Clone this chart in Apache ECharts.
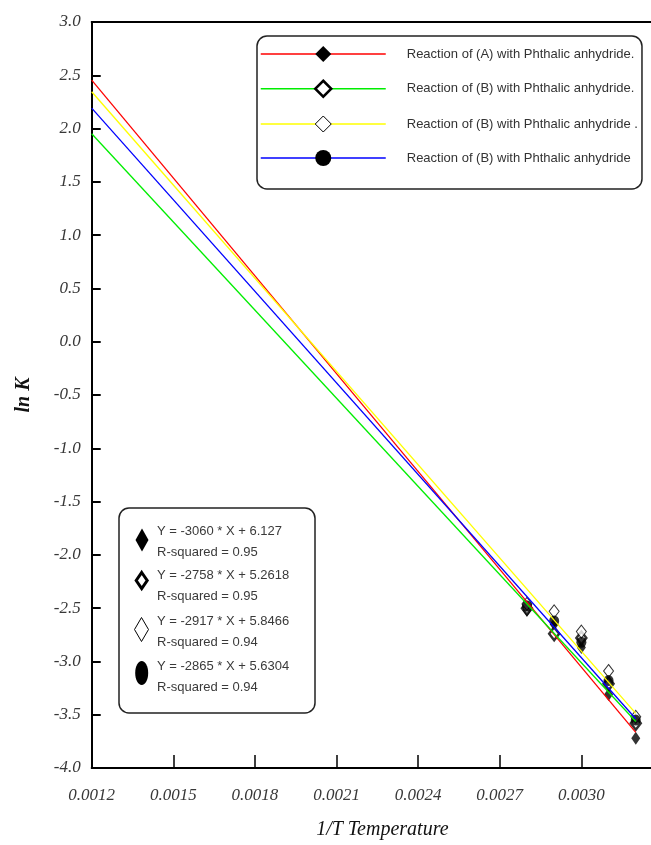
<!DOCTYPE html>
<html>
<head>
<meta charset="utf-8">
<script src="https://cdn.jsdelivr.net/npm/echarts@6/dist/echarts.min.js"></script>
<style>
html,body{margin:0;padding:0;background:#fff;}
#chart{width:651px;height:845px;}
</style>
</head>
<body>
<div id="chart"></div>
<script>
// ---- data ----
const invT = [0.0028, 0.0029, 0.0030, 0.0031, 0.0032];
const lnK_A  = [-2.52, -2.65, -2.87, -3.31, -3.72];   // filled diamond
const lnK_B1 = [-2.50, -2.74, -2.78, -3.21, -3.58];   // diamond with white centre
const lnK_B2 = [-2.46, -2.53, -2.72, -3.09, -3.52];   // open diamond
const lnK_B3 = [-2.48, -2.62, -2.82, -3.18, -3.55];   // filled circle

const fitX = [0.0012, 0.0032];
const fitA  = [2.455, -3.665];
const fitB1 = [1.952, -3.564];
const fitB2 = [2.346, -3.488];
const fitB3 = [2.192, -3.538];

const seriesNames = [
  'Reaction of (A) with Phthalic anhydride.',
  'Reaction of (B) with Phthalic anhydride.',
  'Reaction of (B) with Phthalic anhydride .',
  'Reaction of (B) with Phthalic anhydride'
];
const equations = [
  'Y = -3060 * X + 6.127',
  'Y = -2758 * X + 5.2618',
  'Y = -2917 * X + 5.8466',
  'Y = -2865 * X + 5.6304'
];
const rSquared = ['R-squared = 0.95', 'R-squared = 0.95', 'R-squared = 0.94', 'R-squared = 0.94'];

// x axis is cut off at the right edge of the picture
const xMin = 0.0012, xMax = 0.003256, xTickStep = 0.0003;
const xTickValues = [0.0012, 0.0015, 0.0018, 0.0021, 0.0024, 0.0027, 0.0030];
const yMin = -4, yMax = 3, yTickStep = 0.5;
const xAxisTitle = '1/T Temperature';
const yAxisTitle = 'ln K';

// ---- styling ----
const lineColors = ['#ff0000', '#00ee00', '#ffff00', '#0000ff'];
const markerSymbols = ['diamond', 'diamond', 'diamond', 'circle'];
const markerStyles = [
  {color: '#000', borderColor: '#000', borderWidth: 0},
  {color: '#fff', borderColor: '#000', borderWidth: 2.5},
  {color: '#fff', borderColor: '#000', borderWidth: 1},
  {color: '#000', borderColor: '#000', borderWidth: 0}
];
const markerSizes = [[9, 13], [10, 13], [10, 13], [10, 11]];
const pts = [lnK_A, lnK_B1, lnK_B2, lnK_B3];
const fits = [fitA, fitB1, fitB2, fitB3];

const series = [];
for (let i = 0; i < 4; i++) {
  series.push({
    name: 'pts' + i,
    type: 'scatter',
    z: 2,
    symbol: markerSymbols[i],
    symbolSize: markerSizes[i],
    itemStyle: markerStyles[i],
    data: invT.map((x, k) => [x, pts[i][k]]),
    emphasis: {disabled: true},
    silent: true
  });
}
for (let i = 0; i < 4; i++) {
  series.push({
    name: seriesNames[i],
    type: 'line',
    z: 3,
    symbol: markerSymbols[i],
    showSymbol: false,
    itemStyle: markerStyles[i],
    lineStyle: {color: lineColors[i], width: 1.3},
    data: fitX.map((x, k) => [x, fits[i][k]]),
    emphasis: {disabled: true},
    silent: true
  });
}

const tickFont = {fontFamily: 'Liberation Serif', fontStyle: 'italic', fontSize: 17, color: '#383838'};
const boxFont = 'Liberation Sans';

// annotation box (bottom left)
const eqRowsY = [531.7, 575.7, 621.7, 666.7];
const gfx = [{
  type: 'rect', shape: {x: 119, y: 508, width: 196, height: 205, r: 10},
  style: {fill: '#fff', stroke: '#222', lineWidth: 1.5}, z: 10
}];
for (let i = 0; i < 4; i++) {
  gfx.push({type: 'text', x: 157, y: eqRowsY[i], z: 11,
    style: {text: equations[i], font: '13px ' + boxFont, fill: '#3a3a3a', verticalAlign: 'middle'}});
  gfx.push({type: 'text', x: 157, y: eqRowsY[i] + 21, z: 11,
    style: {text: rSquared[i], font: '13px ' + boxFont, fill: '#3a3a3a', verticalAlign: 'middle'}});
}
function diamond(cx, cy, w, h) {
  return [[cx, cy - h / 2], [cx + w / 2, cy], [cx, cy + h / 2], [cx - w / 2, cy]];
}
gfx.push({type: 'polygon', z: 11, shape: {points: diamond(142, 540, 13, 23)}, style: {fill: '#000'}});
gfx.push({type: 'polygon', z: 11, shape: {points: diamond(141.7, 580.5, 11, 16)}, style: {fill: '#fff', stroke: '#000', lineWidth: 3}});
gfx.push({type: 'polygon', z: 11, shape: {points: diamond(141.5, 629.5, 14, 24)}, style: {fill: '#fff', stroke: '#000', lineWidth: 1}});
gfx.push({type: 'ellipse', z: 11, shape: {cx: 141.7, cy: 673, rx: 6.5, ry: 12}, style: {fill: '#000'}});

const chart = echarts.init(document.getElementById('chart'), null, {renderer: 'canvas'});
chart.setOption({
  animation: false,
  backgroundColor: '#fff',
  grid: {left: 91.7, right: 0, top: 22, bottom: 76.7, show: false},
  legend: {
    orient: 'vertical', left: 257, top: 36,
    padding: [10, 4, 23, 3],
    itemWidth: 125, itemHeight: 20, itemGap: 17.5,
    selectedMode: false,
    borderColor: '#222', borderWidth: 1.5, borderRadius: 10, backgroundColor: '#fff',
    textStyle: {fontFamily: boxFont, fontSize: 13, color: '#333', padding: [0, 0, 0, 16]},
    data: seriesNames.map((n, i) => ({
      name: n,
      itemStyle: markerStyles[i],
      lineStyle: {color: lineColors[i], width: 1.5}
    }))
  },
  xAxis: [{
    type: 'value', min: xMin, max: xMax, interval: xTickStep,
    name: xAxisTitle, nameLocation: 'middle', nameGap: 52,
    nameTextStyle: {fontFamily: 'Liberation Serif', fontStyle: 'italic', fontSize: 20, color: '#111', padding: [0, 0, 0, 22]},
    axisLine: {onZero: false, lineStyle: {color: '#000', width: 2}},
    axisTick: {inside: true, length: 13, customValues: xTickValues, lineStyle: {color: '#000', width: 1.5}},
    axisLabel: Object.assign({margin: 19, customValues: xTickValues, formatter: v => v.toFixed(4)}, tickFont),
    splitLine: {show: false}
  }, {
    type: 'value', position: 'top', min: xMin, max: xMax,
    axisLine: {onZero: false, lineStyle: {color: '#000', width: 2}},
    axisTick: {show: false}, axisLabel: {show: false}, splitLine: {show: false}
  }],
  yAxis: [{
    type: 'value', min: yMin, max: yMax, interval: yTickStep,
    name: yAxisTitle, nameLocation: 'middle', nameGap: 58,
    nameTextStyle: {fontFamily: 'Liberation Serif', fontStyle: 'italic', fontWeight: 'bold', fontSize: 20, color: '#111'},
    axisLine: {onZero: false, lineStyle: {color: '#000', width: 2}},
    axisTick: {inside: true, length: 9, lineStyle: {color: '#000', width: 2}},
    axisLabel: Object.assign({margin: 11, formatter: v => v.toFixed(1)}, tickFont),
    splitLine: {show: false}
  }],
  graphic: gfx,
  series: series
});
</script>
</body>
</html>
